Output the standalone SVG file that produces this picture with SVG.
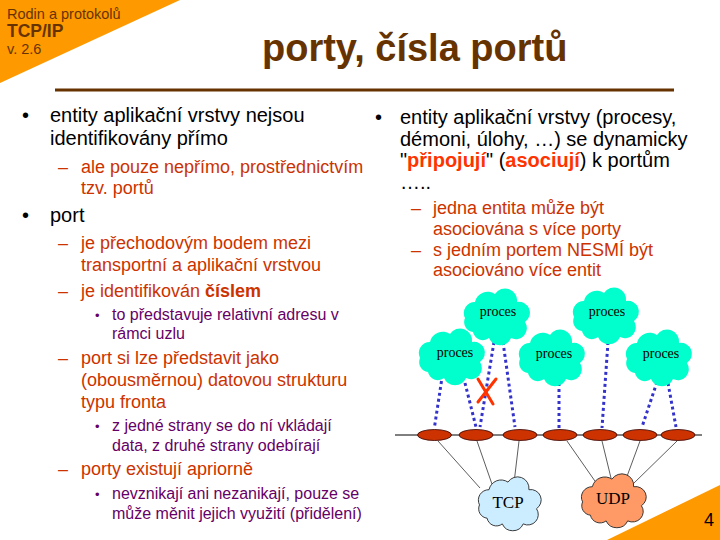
<svg xmlns="http://www.w3.org/2000/svg" xmlns:xlink="http://www.w3.org/1999/xlink" width="720" height="540" viewBox="0 0 720 540">
<style>
  text { font-family: "Liberation Sans", Arial, sans-serif; }
  .hdr { fill: #663300; }
  .l1 { font-size: 20px; fill: #000000; }
  .l2 { font-size: 18px; fill: #CC3300; }
  .l3 { font-size: 16px; fill: #660066; }
  .b3 { font-size: 13px; fill: #660066; }
  .hl { font-weight: bold; fill: #FF3300; }
  .proc { font-family: "Liberation Serif", "Times New Roman", serif; font-size: 14px; fill: #000; text-anchor: middle; }
  .tr { font-family: "Liberation Serif", "Times New Roman", serif; font-size: 17px; fill: #000; text-anchor: middle; }
  .dot { stroke: #3333CC; stroke-width: 3; stroke-dasharray: 3 3; fill: none; }
  .thin { stroke: #333333; stroke-width: 0.8; fill: none; }
  .port { fill: #CC3300; stroke: #330000; stroke-width: 0.8; }
</style>
<defs>
  <path id="cloud" d="M -22,16 A 10,10 0 0,1 -30,2 A 11,11 0 0,1 -20,-14 A 13,13 0 0,1 0,-22 A 12,12 0 0,1 22,-14 A 11,11 0 0,1 30,6 A 11,11 0 0,1 16,22 A 12,12 0 0,1 -6,22 A 10,10 0 0,1 -22,16 Z"/>
</defs>
<rect width="720" height="540" fill="#FFFFFF"/>
<g id="decor">
  <polygon points="0,0 180,0 0,83" fill="#FF9900"/>
  <polygon points="720,485 720,540 607,540" fill="#FF9900"/>
  <text x="7" y="19" class="hdr" font-size="14.5">Rodin a protokolů</text>
  <text x="7" y="36.5" class="hdr" font-size="17.5" font-weight="bold">TCP/IP</text>
  <text x="7" y="54" class="hdr" font-size="14.5">v. 2.6</text>
  <text x="262" y="61" class="hdr" font-size="38" font-weight="bold">porty, čísla portů</text>
  <line x1="55" y1="90" x2="674" y2="90" stroke="#663300" stroke-width="3"/>
  <text x="704" y="526" font-family="Liberation Serif, serif" font-size="18" fill="#000">4</text>
</g>
<g id="left-text">
  <text x="22" y="122" class="l1">•</text>
  <text x="50" y="122" class="l1">entity aplikační  vrstvy nejsou</text>
  <text x="50" y="145" class="l1">identifikovány přímo</text>
  <text x="58" y="173" class="l2">–</text>
  <text x="81" y="173" class="l2">ale pouze nepřímo, prostřednictvím</text>
  <text x="81" y="194" class="l2">tzv. portů</text>
  <text x="22" y="222" class="l1">•</text>
  <text x="50" y="222" class="l1">port</text>
  <text x="58" y="249" class="l2">–</text>
  <text x="81" y="249" class="l2">je přechodovým bodem mezi</text>
  <text x="81" y="271" class="l2">transportní a aplikační vrstvou</text>
  <text x="58" y="297" class="l2">–</text>
  <text x="81" y="297" class="l2">je identifikován <tspan font-weight="bold">číslem</tspan></text>
  <text x="95" y="320" class="b3">•</text>
  <text x="112" y="320" class="l3">to představuje relativní adresu v</text>
  <text x="112" y="339" class="l3">rámci uzlu</text>
  <text x="58" y="364" class="l2">–</text>
  <text x="81" y="364" class="l2">port si lze představit jako</text>
  <text x="81" y="386" class="l2">(obousměrnou) datovou strukturu</text>
  <text x="81" y="408" class="l2">typu fronta</text>
  <text x="95" y="431" class="b3">•</text>
  <text x="112" y="431" class="l3">z jedné strany se do ní vkládají</text>
  <text x="112" y="451" class="l3">data, z druhé strany odebírají</text>
  <text x="58" y="475" class="l2">–</text>
  <text x="81" y="475" class="l2">porty existují apriorně</text>
  <text x="95" y="499" class="b3">•</text>
  <text x="112" y="499" class="l3">nevznikají ani nezanikají, pouze se</text>
  <text x="112" y="519" class="l3">může měnit jejich využití (přidělení)</text>
</g>
<g id="right-text">
  <text x="375" y="124" class="l1">•</text>
  <text x="400" y="124" class="l1">entity aplikační  vrstvy (procesy,</text>
  <text x="400" y="146" class="l1">démoni, úlohy, …) se dynamicky</text>
  <text x="400" y="167" class="l1">"<tspan class="hl">připojují</tspan>" (<tspan class="hl">asociují</tspan>) k portům</text>
  <text x="400" y="189" class="l1">…..</text>
  <text x="411" y="214" class="l2">–</text>
  <text x="433" y="214" class="l2">jedna entita může být</text>
  <text x="433" y="235" class="l2">asociována s více porty</text>
  <text x="411" y="256" class="l2">–</text>
  <text x="433" y="256" class="l2">s jedním portem NESMÍ být</text>
  <text x="433" y="276" class="l2">asociováno více entit</text>
</g>
<g id="connectors">
  <line x1="395" y1="435" x2="702" y2="435" stroke="#000" stroke-width="1"/>
  <line class="thin" x1="438" y1="441" x2="480" y2="488"/>
  <line class="thin" x1="477" y1="441" x2="493" y2="487"/>
  <line class="thin" x1="519" y1="441" x2="514" y2="483"/>
  <line class="thin" x1="567" y1="441" x2="597" y2="484"/>
  <line class="thin" x1="602" y1="441" x2="611" y2="478"/>
  <line class="thin" x1="640" y1="441" x2="626" y2="479"/>
  <line class="thin" x1="677" y1="441" x2="633" y2="484"/>
  <line class="dot" x1="441.5" y1="381" x2="434.5" y2="427"/>
  <line class="dot" x1="465" y1="383" x2="476" y2="427"/>
  <line class="dot" x1="494" y1="342" x2="480" y2="427"/>
  <line class="dot" x1="503" y1="342" x2="515" y2="427"/>
  <line class="dot" x1="559" y1="383" x2="559" y2="428"/>
  <line class="dot" x1="608" y1="342" x2="602" y2="428"/>
  <line class="dot" x1="657" y1="382" x2="642" y2="427"/>
  <line class="dot" x1="668" y1="383" x2="676" y2="427"/>
  <g id="cross" stroke="#FF3300" stroke-width="3" stroke-linecap="round">
    <line x1="478" y1="379" x2="493" y2="404"/>
    <line x1="496" y1="379" x2="478" y2="402"/>
  </g>
</g>
<g id="ports">
  <ellipse class="port" cx="434.5" cy="435" rx="17" ry="5.5"/>
  <ellipse class="port" cx="476" cy="435" rx="17" ry="5.5"/>
  <ellipse class="port" cx="520" cy="435" rx="17" ry="5.5"/>
  <ellipse class="port" cx="560" cy="435" rx="17" ry="5.5"/>
  <ellipse class="port" cx="600" cy="435" rx="17" ry="5.5"/>
  <ellipse class="port" cx="640" cy="435" rx="17" ry="5.5"/>
  <ellipse class="port" cx="678" cy="435" rx="17" ry="5.5"/>
</g>
<g id="proces1"><use xlink:href="#cloud" href="#cloud" transform="translate(450,356)" fill="#00FFCC"/><text x="455" y="357" class="proc">proces</text></g>
<g id="proces2"><use xlink:href="#cloud" href="#cloud" transform="translate(495,316)" fill="#00FFCC"/><text x="498" y="316" class="proc">proces</text></g>
<g id="proces3"><use xlink:href="#cloud" href="#cloud" transform="translate(550,357)" fill="#00FFCC"/><text x="554" y="358" class="proc">proces</text></g>
<g id="proces4"><use xlink:href="#cloud" href="#cloud" transform="translate(604,315)" fill="#00FFCC"/><text x="607" y="316" class="proc">proces</text></g>
<g id="proces5"><use xlink:href="#cloud" href="#cloud" transform="translate(657,357)" fill="#00FFCC"/><text x="661" y="358" class="proc">proces</text></g>
<g id="tcp"><use xlink:href="#cloud" href="#cloud" transform="translate(508,503) scale(0.95,0.95)" fill="#CCECFF" stroke="#333333" stroke-width="1"/><text x="508" y="508" class="tr">TCP</text></g>
<g id="udp"><use xlink:href="#cloud" href="#cloud" transform="translate(612,500) scale(0.98,0.95)" fill="#FF9966" stroke="#333333" stroke-width="1"/><text x="613" y="504" class="tr">UDP</text></g>
</svg>
